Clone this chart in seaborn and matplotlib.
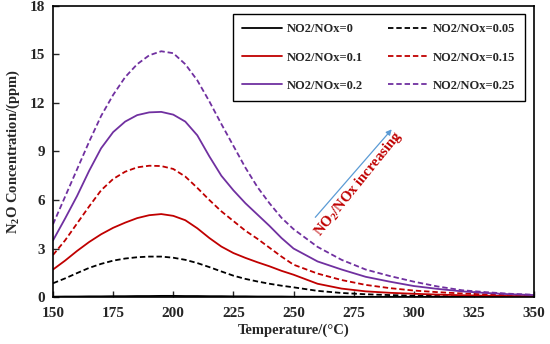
import numpy as np
import pandas as pd
import matplotlib
matplotlib.use("Agg")
import matplotlib.pyplot as plt
import seaborn as sns

# temperature grid (°C) and N2O concentration (ppm)
temp = [150, 155, 160, 165, 170, 175, 180, 185, 190, 195, 200, 205, 210, 215, 220,
        225, 230, 235, 240, 245, 250, 260, 270, 280, 290, 300, 310, 320, 330, 340, 350]

n2o_000 = [0.02, 0.03, 0.03, 0.04, 0.04, 0.05, 0.05, 0.06, 0.06, 0.07, 0.07, 0.06, 0.06, 0.05, 0.05,
           0.04, 0.04, 0.03, 0.03, 0.03, 0.02, 0.02, 0.02, 0.01, 0.01, 0.01, 0.01, 0.01, 0.0, 0.0, 0.0]
n2o_005 = [0.85, 1.15, 1.48, 1.8, 2.05, 2.25, 2.38, 2.46, 2.5, 2.5, 2.43, 2.3, 2.1, 1.85, 1.58,
           1.32, 1.12, 0.96, 0.82, 0.7, 0.6, 0.38, 0.25, 0.17, 0.12, 0.08, 0.06, 0.04, 0.03, 0.02, 0.02]
n2o_010 = [1.7, 2.25, 2.85, 3.4, 3.88, 4.28, 4.6, 4.88, 5.06, 5.13, 5.02, 4.75, 4.25, 3.65, 3.12,
           2.72, 2.42, 2.15, 1.9, 1.62, 1.38, 0.82, 0.52, 0.35, 0.26, 0.2, 0.15, 0.11, 0.08, 0.06, 0.05]
n2o_015 = [2.6, 3.5, 4.55, 5.6, 6.6, 7.3, 7.75, 8.02, 8.12, 8.1, 7.92, 7.45, 6.75, 6.0, 5.3,
           4.7, 4.1, 3.6, 3.05, 2.5, 2.0, 1.45, 1.05, 0.75, 0.55, 0.4, 0.3, 0.22, 0.16, 0.11, 0.08]
n2o_020 = [3.5, 4.85, 6.25, 7.8, 9.2, 10.2, 10.85, 11.25, 11.42, 11.45, 11.28, 10.85, 10.0, 8.7, 7.5,
           6.6, 5.8, 5.1, 4.4, 3.65, 3.0, 2.2, 1.7, 1.25, 0.95, 0.68, 0.5, 0.35, 0.25, 0.17, 0.12]
n2o_025 = [4.5, 6.2, 7.9, 9.6, 11.2, 12.5, 13.6, 14.4, 14.95, 15.2, 15.08, 14.4, 13.4, 12.1, 10.7,
           9.35, 8.0, 6.8, 5.8, 4.9, 4.2, 3.1, 2.3, 1.7, 1.3, 0.95, 0.65, 0.42, 0.3, 0.2, 0.14]

labels = ["NO2/NOx=0", "NO2/NOx=0.05", "NO2/NOx=0.1",
          "NO2/NOx=0.15", "NO2/NOx=0.2", "NO2/NOx=0.25"]
series = [n2o_000, n2o_005, n2o_010, n2o_015, n2o_020, n2o_025]
colors = ["black", "black", "#C00000", "#C00000", "#7030A0", "#7030A0"]
dashed = [False, True, False, True, False, True]

sns.set_style("ticks")
plt.rcParams["font.family"] = ["Liberation Serif", "DejaVu Serif"]
plt.rcParams["font.weight"] = "bold"
plt.rcParams["mathtext.fontset"] = "custom"
plt.rcParams["mathtext.rm"] = "Liberation Serif:bold"
plt.rcParams["mathtext.bf"] = "Liberation Serif:bold"
plt.rcParams["mathtext.it"] = "Liberation Serif:bold"

fig = plt.figure(figsize=(5.5, 3.44), dpi=100)
ax = fig.add_axes([0.0964, 0.1366, 0.8745, 0.846])

lines = {}
for lab, vals, col, dsh in zip(labels, series, colors, dashed):
    df = pd.DataFrame({"T": temp, "C": vals})
    sns.lineplot(data=df, x="T", y="C", color=col, linewidth=1.3, ax=ax, label=lab)
    ln = ax.get_lines()[-1]
    if dsh:
        ln.set_dashes((3, 1.6))
    lines[lab] = ln

ax.set_xlim(150, 350)
ax.set_ylim(0, 18)
ax.set_xticks(np.arange(150, 351, 25))
ax.set_yticks(np.arange(0, 19, 3))
ax.tick_params(direction="in", length=4, width=1, labelsize=11, top=False, right=False)
ax.tick_params(axis="x", pad=7)
ax.tick_params(axis="y", pad=6)
for lbl in ax.get_xticklabels() + ax.get_yticklabels():
    lbl.set_fontweight("bold")
for sp in ax.spines.values():
    sp.set_linewidth(1.2)
    sp.set_color("black")

ax.set_xlabel("Temperature/(°C)", fontsize=10.5, fontweight="bold", labelpad=3)
ax.set_ylabel("N$_2$O Concentration/(ppm)", fontsize=10.5, fontweight="bold", labelpad=5)

order = ["NO2/NOx=0", "NO2/NOx=0.1", "NO2/NOx=0.2",
         "NO2/NOx=0.05", "NO2/NOx=0.15", "NO2/NOx=0.25"]
leg = ax.legend([lines[k] for k in order], order, ncol=2, loc="upper right",
                bbox_to_anchor=(0.981, 0.9725), frameon=True, fancybox=False,
                edgecolor="black", framealpha=1, prop={"weight": "bold", "size": 9},
                handlelength=3.2, handletextpad=0.4, columnspacing=2.0,
                labelspacing=1.3, borderpad=0.75, borderaxespad=0)
leg.get_frame().set_linewidth(1.0)

ax.annotate("", xy=(291.6, 10.5), xytext=(258.3, 4.8),
            arrowprops=dict(arrowstyle="-|>", color="#5B9BD5", lw=0.9, mutation_scale=8))
ax.text(277, 7.0, "NO$_2$/NOx increasing", color="#C00000", fontsize=10.5,
        fontweight="bold", rotation=51, rotation_mode="anchor", ha="center", va="center")

fig.savefig("out.png", dpi=100)
